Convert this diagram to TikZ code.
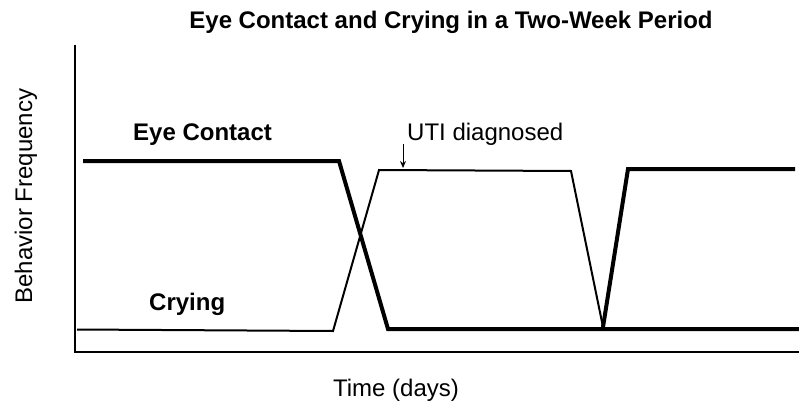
\documentclass[tikz,border=0pt]{standalone}
\usepackage{fontspec}
\setmainfont{Liberation Sans}
\usetikzlibrary{arrows.meta}
\tikzset{
    chart-text/.style = {font=\fontsize{24}{28}\selectfont, inner sep=0pt},
    chart-bold/.style = {chart-text, font=\fontsize{24}{28}\selectfont\bfseries},
    chart-axis/.style = {draw=black, line width=2pt},
    eye-line/.style = {draw=black, line width=4pt, line join=miter},
    cry-line/.style = {draw=black, line width=2pt, line join=miter},
}

\begin{document}
\begin{tikzpicture}[x=1pt, y=-1pt]
\useasboundingbox (0,0) rectangle (799,401);
% axes
\coordinate (top) at (75,45);
\coordinate (origin) at (75,352);
\coordinate (right) at (799,352);
\draw[chart-axis] (top) -- (origin) -- (right);

% texts
\node[chart-bold, anchor=base] (title) at (451,29) {Eye Contact and Crying in a Two-Week Period};
\node[chart-text, anchor=base] (xlabel) at (396,396) {Time (days)};
\node[chart-text, anchor=base, rotate=90] (ylabel) at (32,196) {Behavior Frequency};
\node[chart-bold, anchor=base west] (eye) at (133,140) {Eye Contact};
\node[chart-bold, anchor=base west] (cry) at (149,310) {Crying};
\node[chart-text, anchor=base west] (uti) at (407,140) {UTI diagnosed};

% eye contact
\coordinate (e1) at (83,161);
\coordinate (e2) at (339,161);
\coordinate (e3) at (388,329);
\coordinate (e4) at (799,329);
\coordinate (e5) at (603,327);
\coordinate (e6) at (628,169);
\coordinate (e7) at (795,169);
\draw[eye-line] (e1) -- (e2) -- (e3) -- (e4);
\draw[eye-line] (e5) -- (e6) -- (e7);

% crying
\coordinate (c1) at (77,329.5);
\coordinate (c2) at (333,331);
\coordinate (c3) at (379,170);
\coordinate (c4) at (571,171);
\draw[cry-line] (c1) -- (c2) -- (c3) -- (c4) -- (e5);

% diagnosis marker
\coordinate (mark) at (403,144);
\coordinate (hit) at (403,168);
\draw[line width=1pt, -{Stealth[length=7pt, width=6pt]}] (mark) -- (hit);
\end{tikzpicture}
\end{document}
